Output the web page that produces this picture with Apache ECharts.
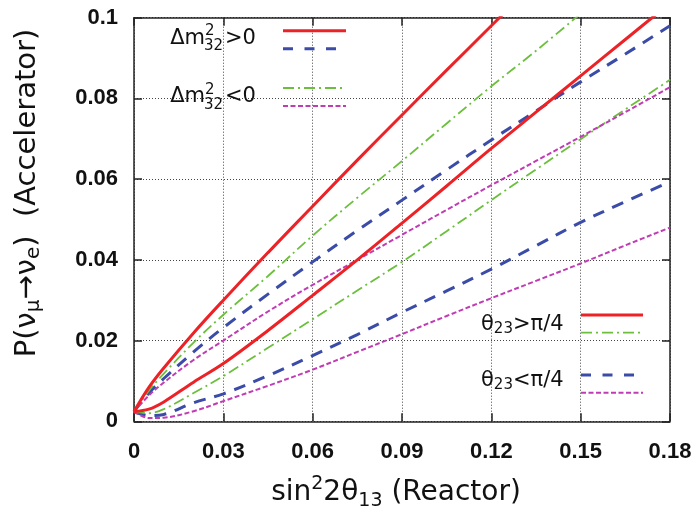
<!DOCTYPE html>
<html>
<head>
<meta charset="utf-8">
<script src="https://cdn.jsdelivr.net/npm/echarts@6/dist/echarts.min.js"></script>
<style>
html,body{margin:0;padding:0;background:#fff;}
#chart{width:696px;height:506px;}
</style>
</head>
<body>
<div id="chart"></div>
<script>
// x values: sin^2 2theta13
var xs = [0, 0.005, 0.01, 0.02, 0.03, 0.045, 0.06, 0.075, 0.09, 0.105, 0.12, 0.135, 0.15, 0.165, 0.18];

// dm32>0, theta23>pi/4 (red solid)
var redUpper = [0.0024, 0.0084, 0.0132, 0.0219, 0.0300, 0.0418, 0.0533, 0.0647, 0.0759, 0.0870, 0.0980, 0.1090];
var redLower = [0.0024, 0.0030, 0.0048, 0.0097, 0.0143, 0.0225, 0.0312, 0.0400, 0.0491, 0.0583, 0.0676, 0.0766, 0.0856, 0.0946, 0.1036];
// dm32<0, theta23>pi/4 (green dash-dot)
var greenUpper = [0.0024, 0.0076, 0.0118, 0.0195, 0.0264, 0.0360, 0.0460, 0.0554, 0.0645, 0.0738, 0.0830, 0.0918, 0.1010];
var greenLower = [0.0024, 0.0020, 0.0030, 0.0070, 0.0112, 0.0182, 0.0253, 0.0324, 0.0395, 0.0471, 0.0548, 0.0624, 0.0699, 0.0773, 0.0846];
// dm32>0, theta23<pi/4 (blue dashed)
var blueUpper = [0.0024, 0.0070, 0.0106, 0.0172, 0.0232, 0.0315, 0.0395, 0.0473, 0.0548, 0.0623, 0.0697, 0.0769, 0.0841, 0.0910, 0.0980];
var blueLower = [0.0024, 0.0014, 0.0017, 0.0046, 0.0068, 0.0113, 0.0163, 0.0215, 0.0270, 0.0323, 0.0377, 0.0435, 0.0493, 0.0544, 0.0594];
// dm32<0, theta23<pi/4 (magenta short dash)
var magentaUpper = [0.0024, 0.0064, 0.0096, 0.0152, 0.0200, 0.0272, 0.0338, 0.0400, 0.0462, 0.0524, 0.0585, 0.0645, 0.0705, 0.0766, 0.0828];
var magentaLower = [0.0024, 0.0008, 0.0009, 0.0025, 0.0050, 0.0088, 0.0128, 0.0172, 0.0216, 0.0261, 0.0305, 0.0348, 0.0391, 0.0436, 0.0480];

var xTickLabels = ['0', '0.03', '0.06', '0.09', '0.12', '0.15', '0.18'];
var yTickLabels = ['0', '0.02', '0.04', '0.06', '0.08', '0.1'];

var RED = '#ec2227', BLUE = '#3a4ca8', GREEN = '#6cbf3c', MAGENTA = '#c03cb4';

function pairs(ys) {
  var out = [];
  for (var i = 0; i < ys.length; i++) out.push([xs[i], ys[i]]);
  return out;
}
function line(name, ys, color, width, type) {
  return {
    name: name, type: 'line', data: pairs(ys), showSymbol: false, symbol: 'none',
    smooth: 0.35, clip: true, animation: false,
    lineStyle: { color: color, width: width, type: type }
  };
}

var chart = echarts.init(document.getElementById('chart'), null, { renderer: 'canvas' });
var SANS = 'DejaVu Sans';
var tickFont = { fontFamily: 'Liberation Sans', fontWeight: 'bold', fontSize: 22, color: '#111' };
var axisLineStyle = { color: '#222', width: 1.5 };
var gridLine = { show: true, lineStyle: { color: '#444', width: 1, type: [1, 2] } };

var option = {
  backgroundColor: '#fff',
  animation: false,
  grid: { left: 134, right: 26, top: 17.7, bottom: 84.7, containLabel: false },
  xAxis: [{
    type: 'value', min: 0, max: 0.18, interval: 0.03, position: 'bottom',
    axisLine: { show: true, onZero: false, lineStyle: axisLineStyle },
    axisTick: { show: true, inside: true, length: 8, lineStyle: axisLineStyle },
    axisLabel: Object.assign({ margin: 20, formatter: function (v) { return xTickLabels[Math.round(v / 0.03)]; } }, tickFont),
    splitLine: gridLine
  }, {
    type: 'value', min: 0, max: 0.18, interval: 0.03, position: 'top',
    axisLine: { show: true, onZero: false, lineStyle: axisLineStyle },
    axisTick: { show: true, inside: true, length: 8, lineStyle: axisLineStyle },
    axisLabel: { show: false }, splitLine: { show: false }
  }],
  yAxis: [{
    type: 'value', min: 0, max: 0.1, interval: 0.02, position: 'left',
    axisLine: { show: true, onZero: false, lineStyle: axisLineStyle },
    axisTick: { show: true, inside: true, length: 8, lineStyle: axisLineStyle },
    axisLabel: Object.assign({ margin: 16, formatter: function (v) { return yTickLabels[Math.round(v / 0.02)]; } }, tickFont),
    splitLine: gridLine
  }, {
    type: 'value', min: 0, max: 0.1, interval: 0.02, position: 'right',
    axisLine: { show: true, onZero: false, lineStyle: axisLineStyle },
    axisTick: { show: true, inside: true, length: 8, lineStyle: axisLineStyle },
    axisLabel: { show: false }, splitLine: { show: false }
  }],
  series: [
    line('blueUpper', blueUpper, BLUE, 3, [12, 9]),
    line('blueLower', blueLower, BLUE, 3, [12, 9]),
    line('greenUpper', greenUpper, GREEN, 1.8, [11, 4, 2, 4]),
    line('greenLower', greenLower, GREEN, 1.8, [11, 4, 2, 4]),
    line('magentaUpper', magentaUpper, MAGENTA, 2, [5, 2.5]),
    line('magentaLower', magentaLower, MAGENTA, 2, [5, 2.5]),
    line('redUpper', redUpper, RED, 3, 'solid'),
    line('redLower', redLower, RED, 3, 'solid')
  ],
  graphic: [
    // axis titles
    { type: 'text', x: 396, y: 493, z: 10, style: {
        text: '{m|sin}{sup|2}{m|2θ}{sub|13}{m| (Reactor)}', align: 'center', verticalAlign: 'middle', fill: '#111',
        rich: {
          m: { fontFamily: SANS, fontSize: 28, lineHeight: 36, fill: '#111' },
          sup: { fontFamily: SANS, fontSize: 19, lineHeight: 18, verticalAlign: 'top', fill: '#111' },
          sub: { fontFamily: SANS, fontSize: 19, lineHeight: 20, verticalAlign: 'bottom', fill: '#111' }
        } } },
    { type: 'text', x: 27, y: 193, rotation: Math.PI / 2, z: 10, style: {
        text: '{m|P(ν}{sub|μ}{m|→ν}{sub|e}{m|)  (Accelerator)}', align: 'center', verticalAlign: 'middle', fill: '#111',
        rich: {
          m: { fontFamily: SANS, fontSize: 29, lineHeight: 34, fill: '#111' },
          sub: { fontFamily: SANS, fontSize: 20, lineHeight: 18, verticalAlign: 'bottom', fill: '#111' }
        } } },
    // legend: dm32 > 0
    { type: 'text', x: 205, y: 38.5, z: 10, style: { text: 'Δm', align: 'right', verticalAlign: 'middle', font: '21px "DejaVu Sans"', fill: '#111' } },
    { type: 'text', x: 205, y: 31.5, z: 10, style: { text: '2', align: 'left', verticalAlign: 'middle', font: '15px "DejaVu Sans"', fill: '#111' } },
    { type: 'text', x: 204, y: 46.5, z: 10, style: { text: '32', align: 'left', verticalAlign: 'middle', font: '15px "DejaVu Sans"', fill: '#111' } },
    { type: 'text', x: 225, y: 38.5, z: 10, style: { text: '>0', align: 'left', verticalAlign: 'middle', font: '21px "DejaVu Sans"', fill: '#111' } },
    { type: 'line', z: 10, shape: { x1: 283, y1: 30.7, x2: 346, y2: 30.7 }, style: { stroke: RED, lineWidth: 3 } },
    { type: 'line', z: 10, shape: { x1: 283, y1: 48.7, x2: 346, y2: 48.7 }, style: { stroke: BLUE, lineWidth: 3, lineDash: [10, 11.5] } },
    // legend: dm32 < 0
    { type: 'text', x: 205, y: 96.7, z: 10, style: { text: 'Δm', align: 'right', verticalAlign: 'middle', font: '21px "DejaVu Sans"', fill: '#111' } },
    { type: 'text', x: 205, y: 89.7, z: 10, style: { text: '2', align: 'left', verticalAlign: 'middle', font: '15px "DejaVu Sans"', fill: '#111' } },
    { type: 'text', x: 204, y: 104.7, z: 10, style: { text: '32', align: 'left', verticalAlign: 'middle', font: '15px "DejaVu Sans"', fill: '#111' } },
    { type: 'text', x: 225, y: 96.7, z: 10, style: { text: '<0', align: 'left', verticalAlign: 'middle', font: '21px "DejaVu Sans"', fill: '#111' } },
    { type: 'line', z: 10, shape: { x1: 283, y1: 88, x2: 346, y2: 88 }, style: { stroke: GREEN, lineWidth: 1.8, lineDash: [11, 4, 2, 4] } },
    { type: 'line', z: 10, shape: { x1: 283, y1: 106, x2: 346, y2: 106 }, style: { stroke: MAGENTA, lineWidth: 2, lineDash: [5, 2.5] } },
    // legend: theta23 > pi/4
    { type: 'text', x: 481, y: 325, z: 10, style: {
        text: '{m|θ}{s|23}{m|>π/4}', align: 'left', verticalAlign: 'middle', fill: '#111',
        rich: { m: { fontFamily: SANS, fontSize: 21, lineHeight: 24, fill: '#111' },
                s: { fontFamily: SANS, fontSize: 15, lineHeight: 12, verticalAlign: 'bottom', fill: '#111' } } } },
    { type: 'line', z: 10, shape: { x1: 581, y1: 315, x2: 643, y2: 315 }, style: { stroke: RED, lineWidth: 3 } },
    { type: 'line', z: 10, shape: { x1: 581, y1: 332.7, x2: 643, y2: 332.7 }, style: { stroke: GREEN, lineWidth: 1.8, lineDash: [11, 4, 2, 4] } },
    // legend: theta23 < pi/4
    { type: 'text', x: 481, y: 381, z: 10, style: {
        text: '{m|θ}{s|23}{m|<π/4}', align: 'left', verticalAlign: 'middle', fill: '#111',
        rich: { m: { fontFamily: SANS, fontSize: 21, lineHeight: 24, fill: '#111' },
                s: { fontFamily: SANS, fontSize: 15, lineHeight: 12, verticalAlign: 'bottom', fill: '#111' } } } },
    { type: 'line', z: 10, shape: { x1: 581, y1: 375, x2: 643, y2: 375 }, style: { stroke: BLUE, lineWidth: 3, lineDash: [10, 11.5] } },
    { type: 'line', z: 10, shape: { x1: 581, y1: 392.7, x2: 643, y2: 392.7 }, style: { stroke: MAGENTA, lineWidth: 2, lineDash: [5, 2.5] } }
  ]
};
chart.setOption(option);
</script>
</body>
</html>
